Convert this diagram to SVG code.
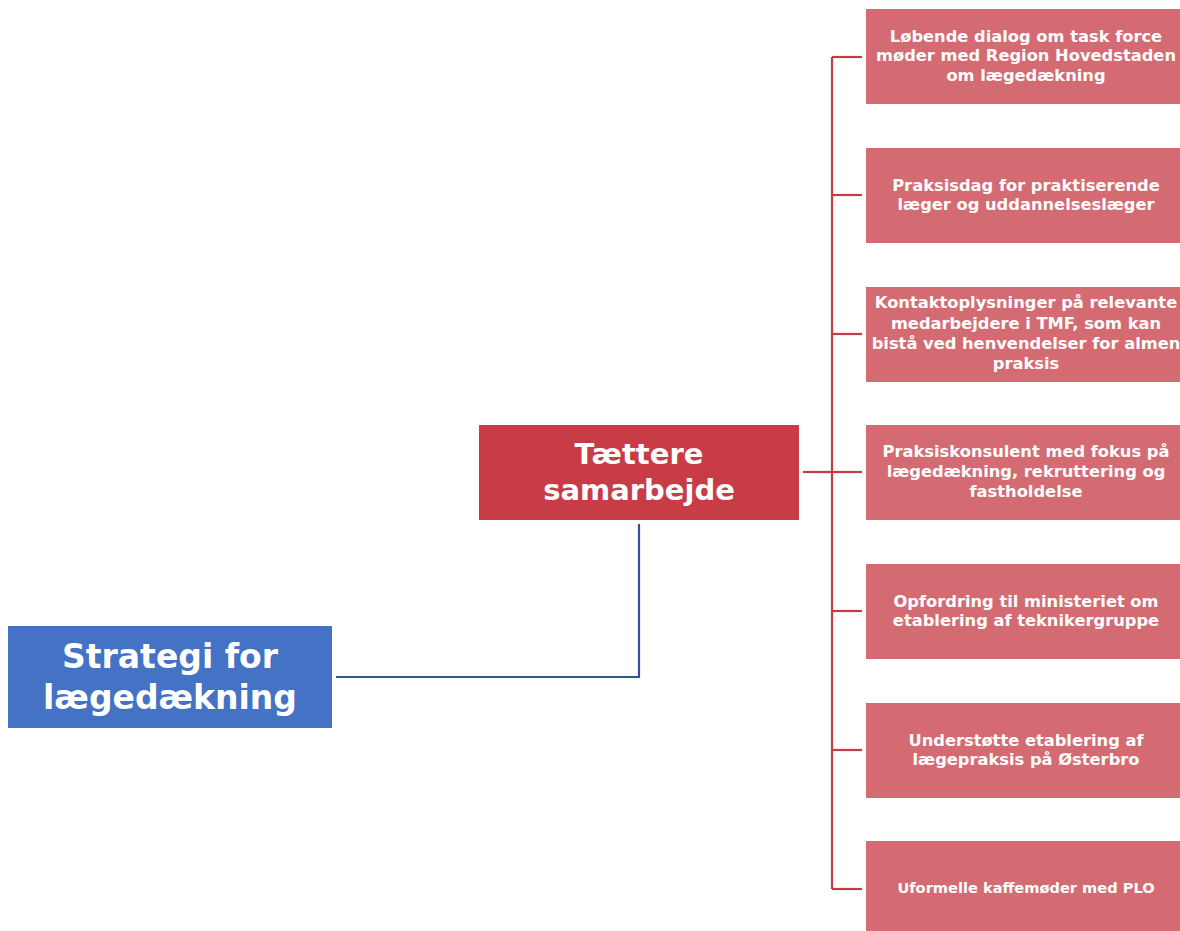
<svg xmlns="http://www.w3.org/2000/svg" width="1180" height="931" viewBox="0 0 1180 931">
<style>
.t{font-family:"DejaVu Sans","Open Sans",sans-serif;font-weight:700;fill:#fff;text-anchor:middle}
.leaf{fill:#D56B72}
.s{font-size:16.3px}
.c-red{stroke:#C63C44;stroke-width:2.2;fill:none}
.c-blue{stroke:#2F5597;stroke-width:2.2;fill:none}
</style>
<rect width="1180" height="931" fill="#fff"/>
<g id="connectors">
<polyline class="c-blue" points="336,677 639,677 639,524"/>
<line class="c-red" x1="803" y1="472" x2="832" y2="472"/>
<line class="c-red" x1="832" y1="57" x2="832" y2="889"/>
<polyline class="c-red" points="862,57 832,57"/>
<polyline class="c-red" points="862,195 832,195"/>
<polyline class="c-red" points="862,334 832,334"/>
<polyline class="c-red" points="862,472 832,472"/>
<polyline class="c-red" points="862,611 832,611"/>
<polyline class="c-red" points="862,750 832,750"/>
<polyline class="c-red" points="862,889 832,889"/>
</g>
<g id="root">
<rect x="8" y="626" width="324" height="102" fill="#4472C4"/>
<text class="t" font-size="33" x="170" y="668">Strategi for</text>
<text class="t" font-size="33" x="170" y="709">lægedækning</text>
</g>
<g id="mid">
<rect x="479" y="425" width="320" height="95" fill="#C83C46"/>
<text class="t" font-size="29" x="639" y="464">Tættere</text>
<text class="t" font-size="29" x="639" y="500">samarbejde</text>
</g>
<g id="n1">
<rect class="leaf" x="866" y="9" width="320" height="95"/>
<text class="t s" x="1026" y="42">Løbende dialog om task force</text>
<text class="t s" x="1026" y="61">møder med Region Hovedstaden</text>
<text class="t s" x="1026" y="81">om lægedækning</text>
</g>
<g id="n2">
<rect class="leaf" x="866" y="148" width="320" height="95"/>
<text class="t s" x="1026" y="191">Praksisdag for praktiserende</text>
<text class="t s" x="1026" y="210">læger og uddannelseslæger</text>
</g>
<g id="n3">
<rect class="leaf" x="866" y="287" width="320" height="95"/>
<text class="t s" x="1026" y="308">Kontaktoplysninger på relevante</text>
<text class="t s" x="1026" y="329">medarbejdere i TMF, som kan</text>
<text class="t s" x="1026" y="349">bistå ved henvendelser for almen</text>
<text class="t s" x="1026" y="369">praksis</text>
</g>
<g id="n4">
<rect class="leaf" x="866" y="425" width="320" height="95"/>
<text class="t s" x="1026" y="457">Praksiskonsulent med fokus på</text>
<text class="t s" x="1026" y="477">lægedækning, rekruttering og</text>
<text class="t s" x="1026" y="497">fastholdelse</text>
</g>
<g id="n5">
<rect class="leaf" x="866" y="564" width="320" height="95"/>
<text class="t s" x="1026" y="607">Opfordring til ministeriet om</text>
<text class="t s" x="1026" y="626">etablering af teknikergruppe</text>
</g>
<g id="n6">
<rect class="leaf" x="866" y="703" width="320" height="95"/>
<text class="t s" x="1026" y="746">Understøtte etablering af</text>
<text class="t s" x="1026" y="765">lægepraksis på Østerbro</text>
</g>
<g id="n7">
<rect class="leaf" x="866" y="841" width="320" height="95"/>
<text class="t" font-size="14.6" x="1026" y="893">Uformelle kaffemøder med PLO</text>
</g>
</svg>
